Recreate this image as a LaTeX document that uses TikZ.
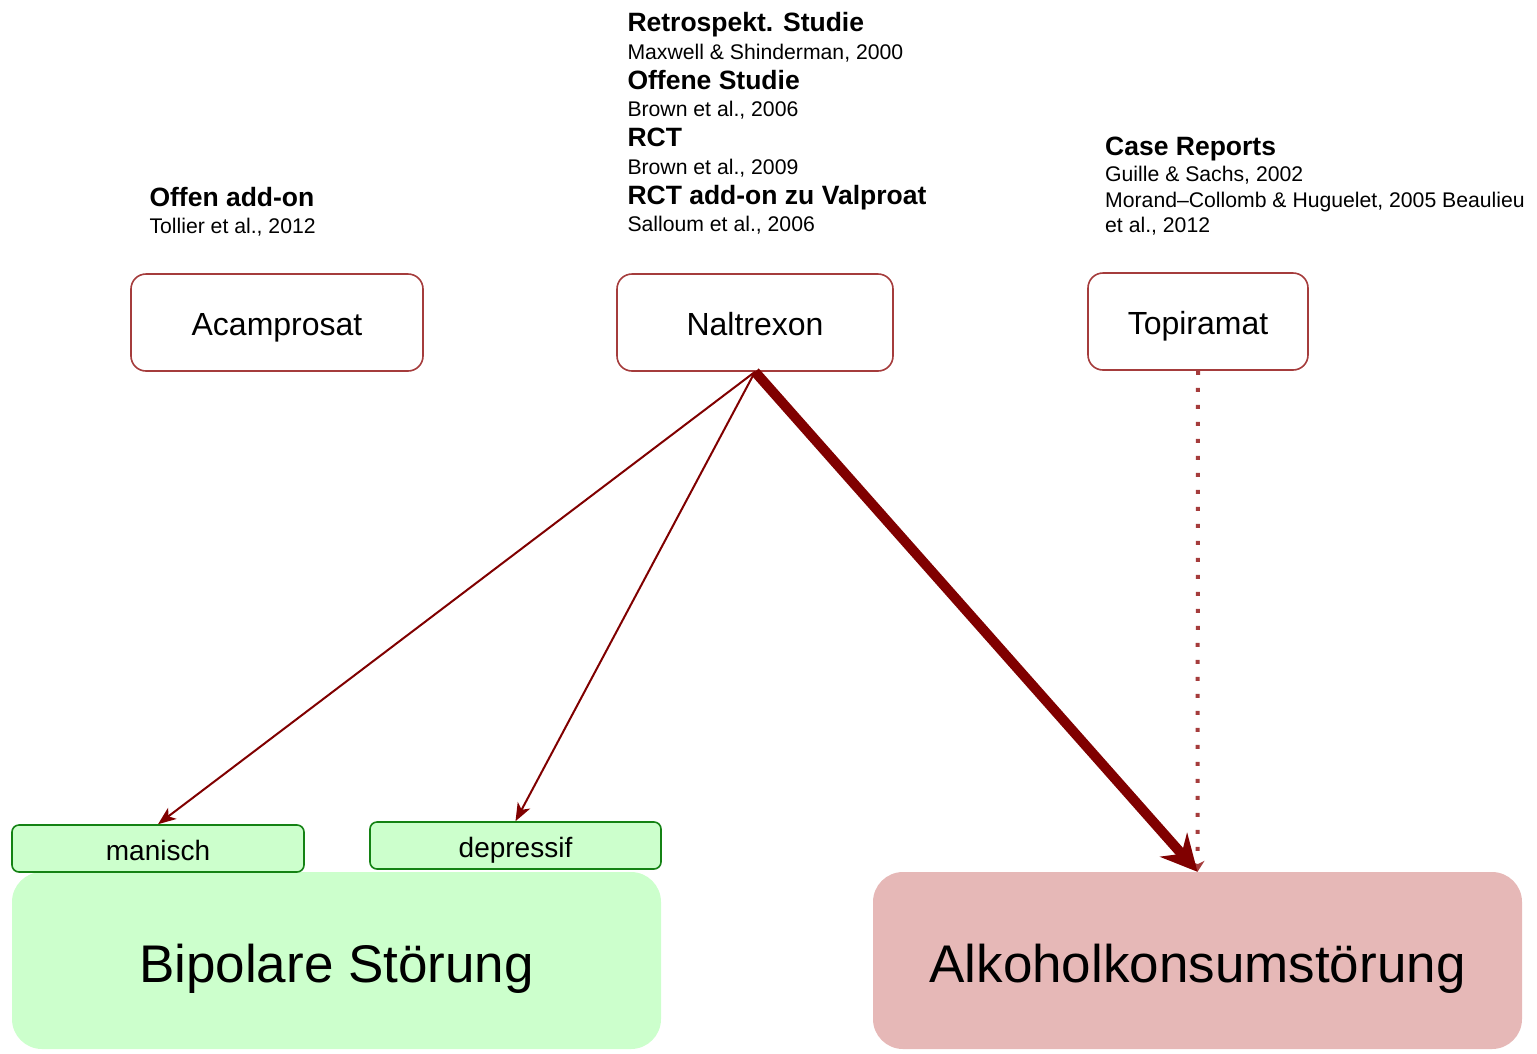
\documentclass[tikz,border=0pt]{standalone}
\usepackage{fontspec}
\setmainfont{Liberation Sans}
\usetikzlibrary{arrows.meta}
\definecolor{boxred}{RGB}{165,60,60}
\definecolor{arrred}{RGB}{128,0,0}
\definecolor{lgreen}{RGB}{204,255,204}
\definecolor{dgreen}{RGB}{20,130,20}
\definecolor{lred}{RGB}{230,184,183}
\begin{document}
\begin{tikzpicture}[x=1pt,y=-1pt,
  drug/.style={draw=boxred, line width=1.6pt, rounded corners=15pt, fill=white,
    font=\fontsize{32}{38}\selectfont, text height=25pt, text depth=0pt, inner sep=0pt, minimum height=97pt},
  sub/.style={draw=dgreen, line width=1.6pt, rounded corners=7pt, fill=lgreen,
    font=\fontsize{28}{33}\selectfont, text height=23pt, text depth=0pt, inner sep=0pt, minimum height=47pt},
  big/.style={rounded corners=30pt, inner sep=0pt, minimum width=649pt, minimum height=177pt,
    font=\fontsize{53}{63}\selectfont, text height=44pt, text depth=0pt},
  hd/.style={anchor=base west, inner sep=0pt, font=\fontsize{26.5}{31}\selectfont\bfseries},
  rf/.style={anchor=base west, inner sep=0pt, font=\fontsize{21.2}{25}\selectfont},
  thinarr/.style={draw=arrred, line width=2pt, -{Stealth[length=18pt, width=14pt, inset=5pt]}},
  thickarr/.style={draw=arrred, line width=10pt, -{Stealth[length=36pt, width=36pt, inset=12pt]}},
  dotarr/.style={draw=boxred, line width=4pt, dash pattern=on 4pt off 13pt, -{Stealth[length=11pt, width=14pt]}}
]
\useasboundingbox (0,0) rectangle (1537,1053);

% big boxes
\node[big, fill=lgreen] (bip) at (336.5,960.5) {Bipolare Störung};
\node[big, fill=lred] (alk) at (1197.5,960.5) {Alkoholkonsumstörung};

% sub boxes
\node[sub, minimum width=292pt] (man) at (158,848.5) {manisch};
\node[sub, minimum width=291pt] (dep) at (515.5,845.5) {depressif};

% drug boxes
\node[drug, minimum width=292pt] (aca) at (277,322.5) {Acamprosat};
\node[drug, minimum width=276pt] (nal) at (755,322.5) {Naltrexon};
\node[drug, minimum width=220pt] (top) at (1198,321.5) {Topiramat};

% texts
\node[hd] (a1) at (149.3,206) {Offen add-on};
\node[rf] (a2) at (149.3,233) {Tollier et al., 2012};

\node[hd] (n1) at (627.3,31.5) {Retrospekt. Studie};
\node[rf] (n2) at (627.3,59.3) {Maxwell \& Shinderman, 2000};
\node[hd] (n3) at (627.3,89.5) {Offene Studie};
\node[rf] (n4) at (627.3,116.7) {Brown et al., 2006};
\node[hd] (n5) at (627.3,146.5) {RCT};
\node[rf] (n6) at (627.3,174.3) {Brown et al., 2009};
\node[hd] (n7) at (627.3,204) {RCT add-on zu Valproat};
\node[rf] (n8) at (627.3,231.5) {Salloum et al., 2006};

\node[hd] (c1) at (1105,155) {Case Reports};
\node[rf] (c2) at (1105,181.7) {Guille \& Sachs, 2002};
\node[rf] (c3) at (1105,207.7) {Morand–Collomb \& Huguelet, 2005 Beaulieu};
\node[rf] (c4) at (1105,232) {et al., 2012};

% connectors
\draw[dotarr] (top.south) -- (alk.north);
\draw[thinarr] (nal.south) -- (man.north);
\draw[thinarr] (nal.south) -- (dep.north);
\draw[thickarr] (nal.south) -- (alk.north);
\end{tikzpicture}
\end{document}
